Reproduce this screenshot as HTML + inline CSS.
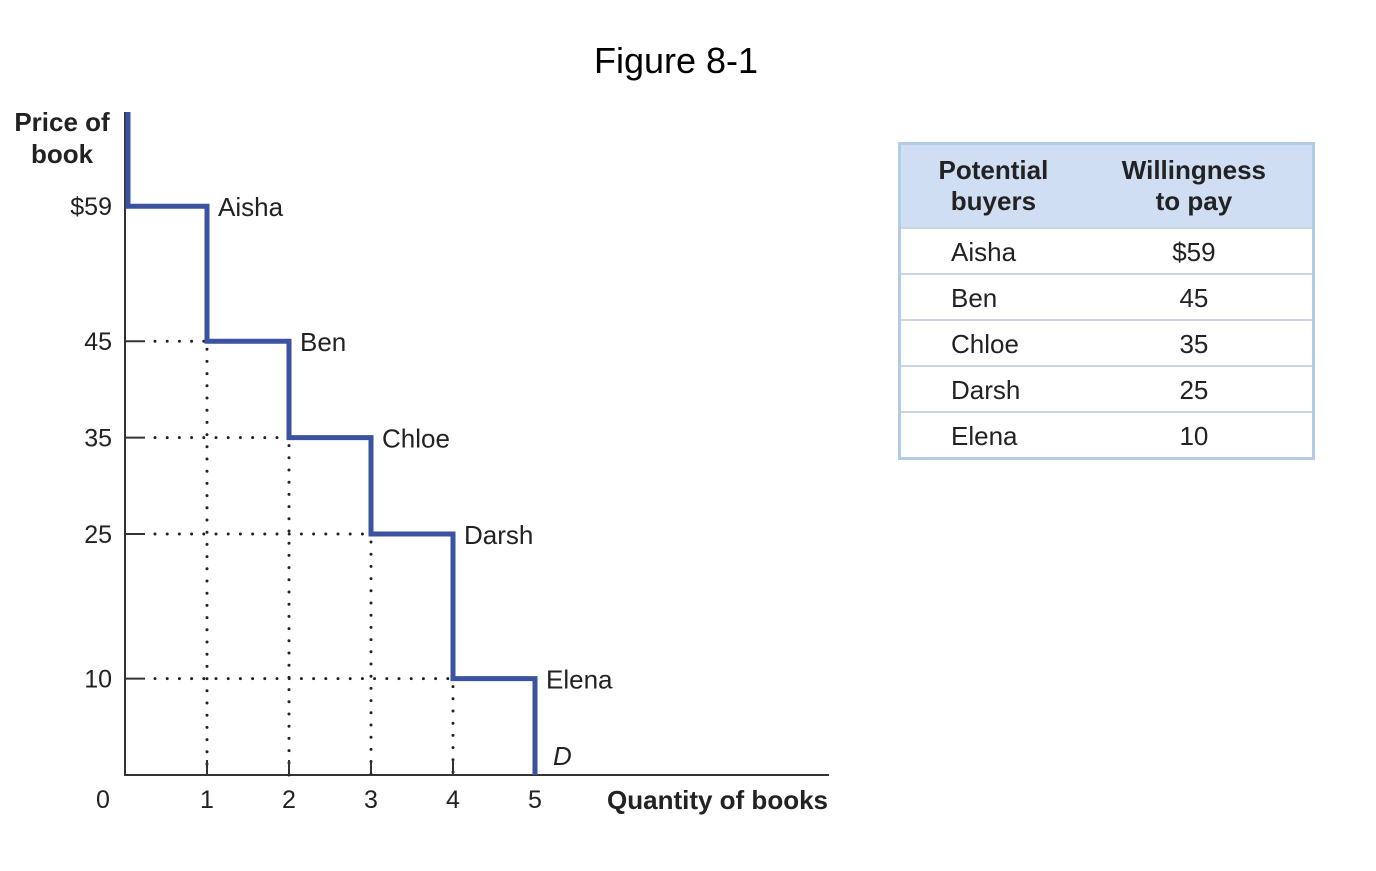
<!DOCTYPE html>
<html><head><meta charset="utf-8">
<style>
html,body{margin:0;padding:0;background:#fff;}
body{width:1376px;height:871px;position:relative;overflow:hidden;font-family:"Liberation Sans",sans-serif;}
#title{position:absolute;left:0;width:1352px;top:40px;text-align:center;font-size:36px;color:#000;}
svg text{font-family:"Liberation Sans",sans-serif;}
table{position:absolute;left:898px;top:142px;width:417px;border-collapse:collapse;border:3px solid #b3cbe4;font-size:26px;color:#222;}
th{background:#cfdef2;font-weight:bold;height:82px;line-height:31px;padding:0;}
td{height:42px;border-top:2px solid #c9d6e6;padding:0;padding-top:2px;}
</style></head><body>
<div id="title">Figure 8-1</div>
<svg id="chart" width="880" height="871" style="position:absolute;left:0;top:0"></svg>
<table>
<tr><th style="width:45%">Potential<br>buyers</th><th style="padding-right:10px">Willingness<br>to pay</th></tr>
<tr><td style="padding-left:50px">Aisha</td><td style="text-align:center;padding-right:10px">$59</td></tr>
<tr><td style="padding-left:50px">Ben</td><td style="text-align:center;padding-right:10px">45</td></tr>
<tr><td style="padding-left:50px">Chloe</td><td style="text-align:center;padding-right:10px">35</td></tr>
<tr><td style="padding-left:50px">Darsh</td><td style="text-align:center;padding-right:10px">25</td></tr>
<tr><td style="padding-left:50px">Elena</td><td style="text-align:center;padding-right:10px">10</td></tr>
</table>
<script>
const buyers=["Aisha","Ben","Chloe","Darsh","Elena"];
const prices=[59,45,35,25,10];
const yTickLabels=["$59","45","35","25","10"];
const xTicks=[0,1,2,3,4,5];
const NS="http://www.w3.org/2000/svg";
const svg=document.getElementById("chart");
const X=q=>125+q*82;
const Y=p=>775-p*9.64;
function mk(t,a,txt){const e=document.createElementNS(NS,t);for(const k in a)e.setAttribute(k,a[k]);if(txt!=null)e.textContent=txt;svg.appendChild(e);return e;}
let e=mk("line",{x1:125,y1:112,x2:125,y2:776,stroke:"#333","stroke-width":2});


e=mk("line",{x1:124,y1:775,x2:829,y2:775,stroke:"#333","stroke-width":2});


prices.forEach((p,i)=>{
  if(i>0){
    e=mk("line",{x1:125,y1:Y(p),x2:145,y2:Y(p),stroke:"#333","stroke-width":2});
    
    
    e=mk("line",{x1:155,y1:Y(p),x2:X(i),y2:Y(p),stroke:"#222","stroke-width":3,"stroke-dasharray":"0 12.2","stroke-linecap":"round"});
    
    
  }
  e=mk("text",{x:112,y:Y(p)+9,"text-anchor":"end","font-size":25,fill:"#222"},yTickLabels[i]);
  
  
});
xTicks.forEach(q=>{
  if(q>0&&q<5){
    e=mk("line",{x1:X(q),y1:Y(prices[q])+8,x2:X(q),y2:775,stroke:"#222","stroke-width":3,"stroke-dasharray":"0 12.2","stroke-linecap":"round"});
    
    
    e=mk("line",{x1:X(q),y1:760,x2:X(q),y2:775,stroke:"#333","stroke-width":2});
    
    
  }
  e=mk("text",{x:q==0?103:X(q),y:808,"text-anchor":"middle","font-size":25,fill:"#222"},String(q));
  
  
});
let d="M128,112 L128,"+Y(prices[0]);
prices.forEach((p,i)=>{d+=" L"+X(i+1)+","+Y(p);if(i<prices.length-1)d+=" L"+X(i+1)+","+Y(prices[i+1]);});
d+=" L"+X(5)+",775";
e=mk("path",{d:d,fill:"none",stroke:"#3a52a0","stroke-width":5});


buyers.forEach((b,i)=>{
  e=mk("text",{x:X(i+1)+11,y:Y(prices[i])+10,"font-size":26,fill:"#222"},b);
  
  
});
e=mk("text",{x:553,y:765,"font-size":26,"font-style":"italic",fill:"#222"},"D");


e=mk("text",{x:828,y:809,"text-anchor":"end","font-size":26,"font-weight":"bold",fill:"#222"},"Quantity of books");


e=mk("text",{x:62,y:131,"text-anchor":"middle","font-size":26,"font-weight":"bold",fill:"#222"},"Price of");


e=mk("text",{x:62,y:163,"text-anchor":"middle","font-size":26,"font-weight":"bold",fill:"#222"},"book");


</script>
</body></html>
